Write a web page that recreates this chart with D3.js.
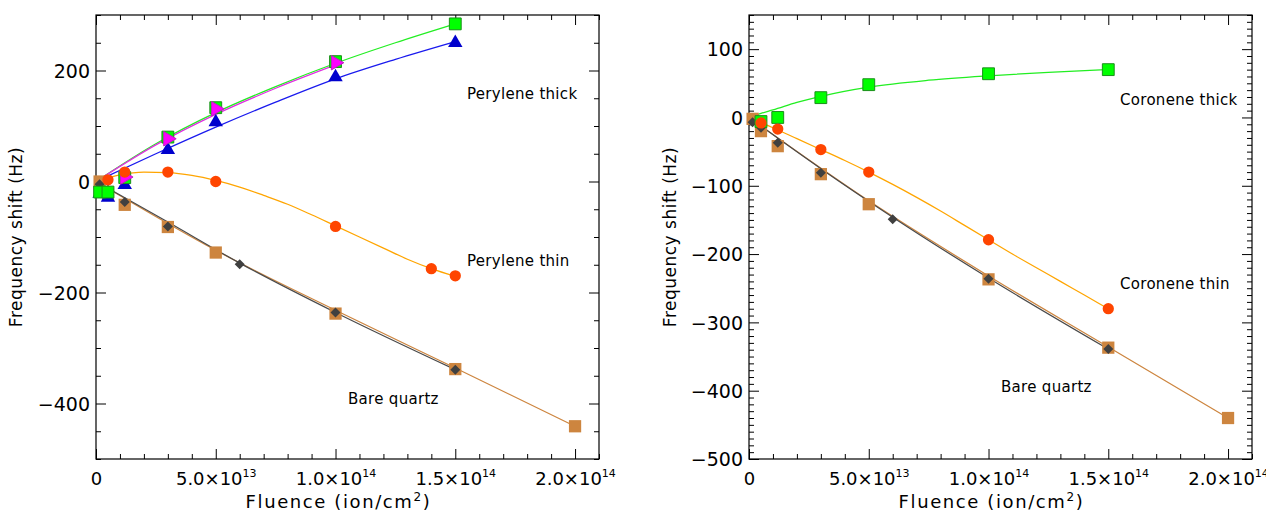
<!DOCTYPE html>
<html>
<head>
<meta charset="utf-8">
<script src="https://cdn.jsdelivr.net/npm/d3@7"></script>
<style>
  html, body { margin: 0; padding: 0; background: #fff; }
  svg { display: block; }
  text { font-family: "DejaVu Sans", sans-serif; fill: #000; }
</style>
</head>
<body>
<svg id="chart" width="1266" height="513"></svg>
<script>
// ---------------- DATA ----------------
// Left panel (perylene) – measured points
const perThickA_x = [0.15e13, 0.5e13, 1.2e13, 3e13, 5e13, 1e14, 1.5e14];   // green squares
const perThickA_y = [-19, -19, 7, 80, 133, 216, 284];
const perThickB_x = [0.15e13, 0.5e13, 1.2e13, 3e13, 5e13, 1e14, 1.5e14];   // blue triangles
const perThickB_y = [-22, -29, -6, 57, 107, 188, 250];
const perThickC_x = [1.2e13, 3e13, 5e13, 1e14];                             // magenta triangles
const perThickC_y = [8, 77, 131, 214];
const perThin_x = [0.5e13, 1.2e13, 3e13, 5e13, 1e14, 1.4e14, 1.5e14];      // orange circles
const perThin_y = [3, 17, 17, 0, -81, -157, -170];
const bareSqL_x = [0.15e13, 0.5e13, 1.2e13, 3e13, 5e13, 1e14, 1.5e14, 2e14]; // brown squares
const bareSqL_y = [0, -22, -42, -82, -128, -238, -338, -441];
const bareDmL_x = [0.15e13, 0.5e13, 1.2e13, 3e13, 6e13, 1e14, 1.5e14];     // dark diamonds
const bareDmL_y = [-5, -15, -37, -81, -149, -236, -339];

// Left panel – fitted curves
const fitPerThickA_x = [0, 2.5e13, 5e13, 7.5e13, 1e14, 1.25e14, 1.5e14];
const fitPerThickA_y = [0, 68, 124, 171, 213, 250, 284];
const fitPerThickC_x = [0, 2.5e13, 5e13, 7.5e13, 1e14];
const fitPerThickC_y = [0, 66, 121, 168, 210];
const fitPerThickB_x = [0, 2.5e13, 5e13, 7.5e13, 1e14, 1.25e14, 1.5e14];
const fitPerThickB_y = [0, 50, 98, 143, 185, 220, 252];
const fitPerThin_x = [0, 1e13, 2e13, 3e13, 4e13, 5e13, 6e13, 7e13, 8e13, 9e13, 1e14, 1.1e14, 1.2e14, 1.3e14, 1.4e14, 1.5e14];
const fitPerThin_y = [0, 12, 17, 16, 11, 2, -10, -25, -41, -60, -80, -100, -120, -140, -157, -171];
const fitBareDmL_x = [0, 3e13, 6e13, 1e14, 1.5e14];
const fitBareDmL_y = [0, -73, -147, -236, -339];
const fitBareSqL_x = [0, 5e13, 1e14, 1.5e14, 2e14];
const fitBareSqL_y = [0, -124, -232, -336, -441];

// Right panel (coronene) – measured points
const corThick_x = [0.5e13, 1.2e13, 3e13, 5e13, 1e14, 1.5e14];             // green squares
const corThick_y = [-6, 0, 29, 48, 64, 70];
const corThin_x = [0.5e13, 1.2e13, 3e13, 5e13, 1e14, 1.5e14];              // orange circles
const corThin_y = [-8, -17, -47, -80, -179, -280];
const bareSqR_x = [0.15e13, 0.5e13, 1.2e13, 3e13, 5e13, 1e14, 1.5e14, 2e14];
const bareSqR_y = [-2, -20, -42, -83, -127, -237, -337, -440];
const bareDmR_x = [0.15e13, 0.5e13, 1.2e13, 3e13, 6e13, 1e14, 1.5e14];
const bareDmR_y = [-7, -15, -37, -81, -149, -236, -339];

// Right panel – fitted curves
const fitCorThick_x = [0, 0.5e13, 1e13, 2e13, 3e13, 5e13, 7.5e13, 1e14, 1.25e14, 1.5e14];
const fitCorThick_y = [0, 6, 11, 22, 31, 44.5, 54.5, 61, 66, 70];
const fitCorThin_x = [0, 1e13, 2e13, 3e13, 4e13, 5e13, 6e13, 7e13, 8e13, 9e13, 1e14, 1.1e14, 1.2e14, 1.3e14, 1.4e14, 1.5e14];
const fitCorThin_y = [0, -15, -31, -47, -63, -80, -98, -117, -137, -158, -179, -200, -220, -240, -260, -280];
const fitBareDmR_x = [0, 3e13, 6e13, 1e14, 1.5e14];
const fitBareDmR_y = [0, -75, -146, -235, -339];
const fitBareSqR_x = [0, 5e13, 1e14, 1.5e14, 2e14];
const fitBareSqR_y = [0, -122, -232, -336, -440];

// Axes / labels
const xDomain = [0, 2.1e14];
const xMajorTicks = [0, 5e13, 1e14, 1.5e14, 2e14];
const yDomainL = [-500, 300];
const yMajorTicksL = [-400, -200, 0, 200];
const yDomainR = [-500, 150];
const yMajorTicksR = [-500, -400, -300, -200, -100, 0, 100];
const xTitle = ["Fluence (ion/cm", "2", ")"];
const yTitle = "Frequency shift (Hz)";
const labelsL = ["Perylene thick", "Perylene thin", "Bare quartz"];
const labelsR = ["Coronene thick", "Coronene thin", "Bare quartz"];

// ---------------- STYLE ----------------
const C = {
  green: "#00ff00", greenEdge: "#1b8f1b", greenLine: "#22ee22",
  blue: "#0000cd", blueLine: "#1a1aee",
  magenta: "#ff00ff", magentaEdge: "#c020c0", magentaLine: "#e030e0",
  red: "#ff4500", orangeLine: "#ffa500",
  brown: "#cd853f", brownLine: "#cd853f",
  gray: "#404040", grayLine: "#4a4a4a"
};

const svg = d3.select("#chart");
svg.append("rect").attr("width", 1266).attr("height", 513).attr("fill", "#fff");

const zip = (a, b) => a.map((v, i) => [v, b[i]]);

function drawPanel(p) {
  const x = d3.scaleLinear().domain(xDomain).range([p.left, p.right]);
  const y = d3.scaleLinear().domain(p.yDomain).range([p.bottom, p.top]);
  const g = svg.append("g");

  const xMinor = d3.range(0, xDomain[1] + 1, 1e13).filter(v => !xMajorTicks.some(m => Math.abs(m - v) < 1));
  const yMinor = d3.range(p.yDomain[0], p.yDomain[1] + 0.001, p.yMinorStep).filter(v => !p.yMajor.includes(v));

  function axisGroup(axis, tr) {
    const a = g.append("g").attr("transform", tr).call(axis);
    a.select(".domain").remove();
    a.selectAll(".tick line").attr("stroke", "#000").attr("stroke-width", 1);
    a.attr("font-family", null).attr("font-size", null);
    return a;
  }
  // minor ticks
  axisGroup(d3.axisBottom(x).tickValues(xMinor).tickSize(-5).tickFormat(""), `translate(0,${p.bottom})`);
  axisGroup(d3.axisTop(x).tickValues(xMinor).tickSize(-5).tickFormat(""), `translate(0,${p.top})`);
  axisGroup(d3.axisLeft(y).tickValues(yMinor).tickSize(-5).tickFormat(""), `translate(${p.left},0)`);
  axisGroup(d3.axisRight(y).tickValues(yMinor).tickSize(-5).tickFormat(""), `translate(${p.right},0)`);
  // major ticks
  const xb = axisGroup(d3.axisBottom(x).tickValues(xMajorTicks).tickSizeInner(-10).tickSizeOuter(0).tickPadding(13),
    `translate(0,${p.bottom})`);
  xb.selectAll(".tick text").each(function (d) {
    const t = d3.select(this);
    t.text(null).attr("font-size", 18).attr("fill", "#000");
    if (d === 0) { t.text("0"); return; }
    const e = Math.floor(Math.log10(d) + 1e-9);
    const m = d / Math.pow(10, e);
    t.append("tspan").text(m.toFixed(1) + "×10");
    t.append("tspan").attr("dy", "-8").attr("font-size", 11).text(String(e));
  });
  axisGroup(d3.axisTop(x).tickValues(xMajorTicks).tickSizeInner(-10).tickSizeOuter(0).tickFormat(""), `translate(0,${p.top})`);
  const yl = axisGroup(d3.axisLeft(y).tickValues(p.yMajor).tickSizeInner(-10).tickSizeOuter(0).tickPadding(6)
    .tickFormat(d => d < 0 ? "\u2212" + Math.abs(d) : String(d)), `translate(${p.left},0)`);
  yl.selectAll(".tick text").attr("font-size", 19).attr("fill", "#000").attr("dy", "0.36em");
  axisGroup(d3.axisRight(y).tickValues(p.yMajor).tickSizeInner(-10).tickSizeOuter(0).tickFormat(""), `translate(${p.right},0)`);

  // frame
  g.append("rect").attr("x", p.left).attr("y", p.top).attr("width", p.right - p.left).attr("height", p.bottom - p.top)
    .attr("fill", "none").attr("stroke", "#000").attr("stroke-width", 1.2);

  // titles
  const xt = g.append("text").attr("x", (p.left + p.right) / 2 - 9).attr("y", 508)
    .attr("text-anchor", "middle").attr("font-size", 18).attr("letter-spacing", 1.6);
  xt.append("tspan").text(xTitle[0]);
  xt.append("tspan").attr("dy", -7).attr("font-size", 12).text(xTitle[1]);
  xt.append("tspan").attr("dy", 7).text(xTitle[2]);
  g.append("text").attr("transform", `translate(${p.yTitleX},${(p.top + p.bottom) / 2}) rotate(-90)`)
    .attr("text-anchor", "middle").attr("font-size", 17).attr("letter-spacing", 0.5).text(yTitle);

  // fitted curves
  const line = d3.line().x(d => x(d[0])).y(d => y(d[1])).curve(d3.curveMonotoneX);
  p.fits.forEach(f => {
    g.append("path").datum(zip(f.x, f.y)).attr("d", line)
      .attr("fill", "none").attr("stroke", f.color).attr("stroke-width", 1.25);
  });

  // markers
  p.series.forEach(s => {
    const sym = d3.symbol().type(s.type).size(s.size);
    g.append("g").selectAll("path").data(zip(s.x, s.y)).join("path")
      .attr("d", sym)
      .attr("transform", d => `translate(${x(d[0])},${y(d[1])}) rotate(${s.rot || 0})`)
      .attr("fill", s.fill).attr("stroke", s.stroke || "none").attr("stroke-width", 1);
  });

  // labels
  p.labels.forEach(l => {
    g.append("text").attr("x", l.x).attr("y", l.y).attr("font-size", 15).attr("letter-spacing", 0.3).text(l.text);
  });
}

drawPanel({
  left: 96, right: 599, top: 15, bottom: 459, yDomain: yDomainL, yMajor: yMajorTicksL, yMinorStep: 50, yTitleX: 22,
  fits: [
    { x: fitBareSqL_x, y: fitBareSqL_y, color: C.brownLine },
    { x: fitBareDmL_x, y: fitBareDmL_y, color: C.grayLine },
    { x: fitPerThin_x, y: fitPerThin_y, color: C.orangeLine },
    { x: fitPerThickB_x, y: fitPerThickB_y, color: C.blueLine },
    { x: fitPerThickA_x, y: fitPerThickA_y, color: C.greenLine },
    { x: fitPerThickC_x, y: fitPerThickC_y, color: C.magentaLine }
  ],
  series: [
    { x: bareSqL_x, y: bareSqL_y, type: d3.symbolSquare, size: 150, fill: C.brown },
    { x: bareDmL_x, y: bareDmL_y, type: d3.symbolSquare, size: 50, rot: 45, fill: C.gray },
    { x: perThickB_x, y: perThickB_y, type: d3.symbolTriangle, size: 90, fill: C.blue },
    { x: perThickA_x, y: perThickA_y, type: d3.symbolSquare, size: 140, fill: C.green, stroke: C.greenEdge },
    { x: perThickC_x, y: perThickC_y, type: d3.symbolTriangle, size: 90, rot: 90, fill: C.magenta, stroke: C.magentaEdge },
    { x: perThin_x, y: perThin_y, type: d3.symbolCircle, size: 100, fill: C.red }
  ],
  labels: [
    { text: labelsL[0], x: 467, y: 99 },
    { text: labelsL[1], x: 467, y: 266 },
    { text: labelsL[2], x: 348, y: 404 }
  ]
});

drawPanel({
  left: 749, right: 1252, top: 15, bottom: 459, yDomain: yDomainR, yMajor: yMajorTicksR, yMinorStep: 10, yTitleX: 676,
  fits: [
    { x: fitBareSqR_x, y: fitBareSqR_y, color: C.brownLine },
    { x: fitBareDmR_x, y: fitBareDmR_y, color: C.grayLine },
    { x: fitCorThin_x, y: fitCorThin_y, color: C.orangeLine },
    { x: fitCorThick_x, y: fitCorThick_y, color: C.greenLine }
  ],
  series: [
    { x: bareSqR_x, y: bareSqR_y, type: d3.symbolSquare, size: 150, fill: C.brown },
    { x: bareDmR_x, y: bareDmR_y, type: d3.symbolSquare, size: 50, rot: 45, fill: C.gray },
    { x: corThick_x, y: corThick_y, type: d3.symbolSquare, size: 140, fill: C.green, stroke: C.greenEdge },
    { x: corThin_x, y: corThin_y, type: d3.symbolCircle, size: 100, fill: C.red }
  ],
  labels: [
    { text: labelsR[0], x: 1120, y: 105 },
    { text: labelsR[1], x: 1120, y: 289 },
    { text: labelsR[2], x: 1001, y: 392 }
  ]
});
</script>
</body>
</html>
